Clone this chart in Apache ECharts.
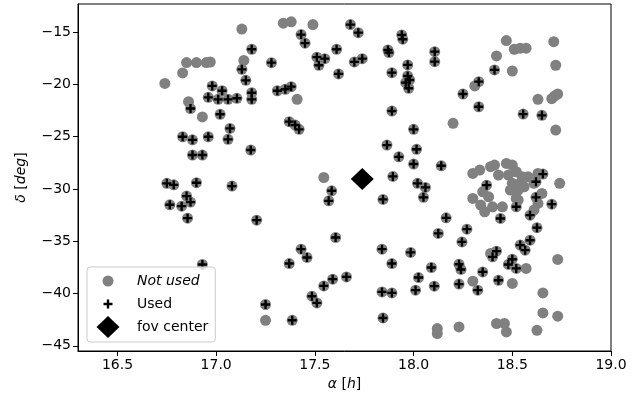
<!DOCTYPE html>
<html>
<head>
<meta charset="utf-8">
<script src="https://cdn.jsdelivr.net/npm/echarts@6/dist/echarts.min.js"></script>
<style>
html,body{margin:0;padding:0;background:#fff;}
#chart{width:632px;height:404px;}
</style>
</head>
<body>
<div id="chart"></div>
<script>
// Stars not used (right ascension [h], declination [deg])
const notUsedRA = [16.74,16.83,16.85,16.90,16.95,16.97,16.86,16.93,17.13,17.14,
  17.34,17.38,17.49,17.41,17.545,
  18.47,18.51,18.54,18.57,18.71,18.42,18.50,18.72,18.31,18.63,18.70,18.715,18.73,18.72,18.20,
  18.30,18.335,18.39,18.41,18.47,18.50,18.52,18.48,18.43,18.50,18.54,18.55,18.30,18.35,18.38,18.34,18.36,18.40,18.45,18.52,18.49,18.58,18.63,18.61,18.56,18.53,18.65,18.74,18.63,18.61,18.53,
  18.39,18.57,18.30,18.50,18.23,18.42,18.46,18.47,18.625,18.655,18.655,18.73,18.73,18.12,18.12,17.25];
const notUsedDec = [-19.9,-18.9,-17.9,-17.9,-17.9,-17.85,-21.65,-23.1,-14.7,-17.7,
  -14.14,-14.0,-14.27,-21.42,-28.9,
  -15.8,-16.63,-16.53,-16.53,-15.9,-17.27,-18.71,-18.16,-20.14,-21.42,-21.36,-21.1,-20.91,-24.36,-23.72,
  -28.51,-28.19,-27.87,-27.71,-27.55,-27.71,-28.35,-28.67,-28.67,-29.46,-29.46,-28.83,-30.9,-30.27,-30.75,-31.54,-32.18,-31.7,-31.7,-30.9,-30.1,-28.83,-28.51,-29.46,-29.79,-30.1,-30.42,-29.46,-31.38,-32.02,-31.06,
  -36.17,-37.6,-38.82,-39.04,-43.2,-42.87,-42.87,-43.68,-43.52,-39.94,-41.86,-42.17,-36.74,-43.35,-43.83,-42.56];

// Stars used
const usedRA = [17.18,17.13,17.15,16.98,17.03,16.96,17.01,17.06,17.105,17.18,17.18,16.87,17.02,17.07,17.06,16.83,16.88,16.96,16.88,16.93,17.175,
  16.75,16.785,16.90,17.08,16.85,16.765,16.825,16.87,16.855,17.205,16.93,
  17.68,17.72,17.43,17.45,17.28,17.51,17.55,17.52,17.61,17.70,17.74,17.62,17.87,17.875,17.94,17.945,18.107,18.107,17.89,17.97,17.97,17.96,17.98,17.975,17.31,17.35,17.38,17.37,17.40,17.42,17.89,18.0,17.865,18.015,17.925,18.0,18.14,17.895,
  18.41,18.33,18.25,18.33,18.555,18.65,
  17.585,17.57,17.845,18.02,18.06,18.05,17.605,17.43,17.46,17.37,17.66,17.59,17.545,17.485,17.51,17.25,17.385,17.845,17.84,17.89,17.985,17.84,17.89,18.01,18.09,18.025,18.105,18.125,
  18.165,18.27,18.245,18.23,18.24,18.23,18.35,18.325,18.43,18.42,18.40,18.50,18.48,18.52,18.54,18.565,18.59,18.625,18.59,18.70,18.44,18.52,18.62,18.62,18.655,18.37];
const usedDec = [-16.63,-18.55,-19.6,-20.14,-20.6,-21.23,-21.42,-21.42,-21.32,-20.79,-21.42,-22.3,-22.85,-24.2,-25.25,-25.0,-25.3,-25.0,-26.75,-26.75,-26.27,
  -29.46,-29.6,-29.4,-29.72,-30.68,-31.51,-31.64,-31.25,-32.79,-32.98,-37.22,
  -14.27,-15.04,-15.23,-16.05,-17.91,-17.39,-17.53,-18.16,-16.63,-17.84,-17.53,-18.99,-16.7,-16.95,-15.26,-15.67,-16.86,-17.82,-18.87,-18.13,-19.19,-19.83,-19.57,-20.36,-20.6,-20.46,-20.21,-23.56,-23.88,-24.29,-22.54,-24.29,-25.8,-26.2,-26.92,-27.61,-27.78,-28.8,
  -18.61,-19.73,-20.91,-22.13,-22.83,-22.95,
  -30.17,-31.13,-31.0,-29.46,-29.85,-30.8,-34.64,-35.76,-36.55,-37.13,-38.41,-38.63,-39.27,-40.26,-40.9,-41.05,-42.56,-42.34,-35.76,-37.13,-36.07,-39.85,-39.94,-39.68,-37.51,-38.47,-39.3,-34.25,
  -32.76,-33.84,-35.06,-37.2,-37.7,-39.1,-37.93,-39.68,-38.73,-35.95,-36.49,-36.72,-37.22,-37.6,-35.37,-35.85,-34.9,-33.7,-32.5,-31.45,-32.82,-31.7,-30.8,-29.31,-28.57,-29.63];

// Field of view center
const fovRA = [17.74];
const fovDec = [-29.05];

const xTicks = [16.5, 17.0, 17.5, 18.0, 18.5, 19.0];
const yTicks = [-45, -40, -35, -30, -25, -20, -15];

const zip = (a, b) => a.map((v, i) => [v, b[i]]);
const allStars = zip(notUsedRA, notUsedDec).concat(zip(usedRA, usedDec));

const FONT = 'DejaVu Sans';
const plusPath = 'path://M0,3.7H3.7V0H6.3V3.7H10V6.3H6.3V10H3.7V6.3H0Z';
const legCircle = 'path://M0,0M37,22M7.5,11A5.5,5.5,0,1,1,18.5,11A5.5,5.5,0,1,1,7.5,11Z';
const legPlus = 'path://M0,0M37,22M8.5,9.8H11.8V6.5H14.2V9.8H17.5V12.2H14.2V15.5H11.8V12.2H8.5Z';
const legDiamond = 'path://M0,0M37,22M13,0L24.5,11L13,22L1.5,11Z';

const chart = echarts.init(document.getElementById('chart'), null, {renderer: 'canvas'});
chart.setOption({
  animation: false,
  backgroundColor: '#fff',
  textStyle: {fontFamily: FONT},
  grid: {left: 78, right: 21, top: 4, bottom: 53, show: true, borderColor: '#000', borderWidth: 1, backgroundColor: 'transparent'},
  xAxis: {
    type: 'value', min: 16.3, max: 19.0,
    name: '{i|α} [{i|h}]', nameLocation: 'middle', nameGap: 26,
    nameTextStyle: {fontFamily: FONT, fontSize: 14, color: '#000',
      rich: {i: {fontStyle: 'italic', fontFamily: FONT, fontSize: 14, color: '#000'}}},
    axisLine: {show: true, lineStyle: {color: '#000', width: 1}},
    axisTick: {show: true, length: 5, inside: false, customValues: xTicks, lineStyle: {color: '#000'}},
    axisLabel: {show: true, customValues: xTicks, margin: 7, fontFamily: FONT, fontSize: 14, color: '#000',
      formatter: v => Number(v).toFixed(1)},
    splitLine: {show: false}
  },
  yAxis: {
    type: 'value', min: -45.5, max: -12.3,
    name: '{i|δ} [{i|deg}]', nameLocation: 'middle', nameGap: 50, nameRotate: 90,
    nameTextStyle: {fontFamily: FONT, fontSize: 14, color: '#000',
      rich: {i: {fontStyle: 'italic', fontFamily: FONT, fontSize: 14, color: '#000'}}},
    axisLine: {show: true, lineStyle: {color: '#000', width: 1}},
    axisTick: {show: true, length: 5, inside: false, customValues: yTicks, lineStyle: {color: '#000'}},
    axisLabel: {show: true, customValues: yTicks, margin: 7, fontFamily: FONT, fontSize: 14, color: '#000',
      formatter: v => (v < 0 ? '\u2212' + Math.abs(v) : String(v))},
    splitLine: {show: false}
  },
  legend: {
    orient: 'vertical', left: 87, top: 267,
    padding: [3, 7, 4, 8], itemGap: 1, itemWidth: 37, itemHeight: 22,
    backgroundColor: 'rgba(255,255,255,0.8)', borderColor: '#cccccc', borderWidth: 1, borderRadius: 3,
    textStyle: {fontFamily: FONT, fontSize: 14, color: '#000', padding: [0, 0, 0, 0]},
    data: [
      {name: 'Not used', icon: legCircle, textStyle: {fontStyle: 'italic'}},
      {name: 'Used', icon: legPlus},
      {name: 'fov center', icon: legDiamond}
    ]
  },
  series: [
    {name: 'Not used', type: 'scatter', data: allStars, symbol: 'circle', symbolSize: 11,
      itemStyle: {color: '#808080', opacity: 1}, silent: true, z: 2},
    {name: 'Used', type: 'scatter', data: zip(usedRA, usedDec), symbol: plusPath, symbolSize: 9,
      itemStyle: {color: '#000', opacity: 1}, silent: true, z: 3},
    {name: 'fov center', type: 'scatter', data: zip(fovRA, fovDec), symbol: 'diamond', symbolSize: [23, 22],
      itemStyle: {color: '#000', opacity: 1}, silent: true, z: 4}
  ]
});
</script>
</body>
</html>
